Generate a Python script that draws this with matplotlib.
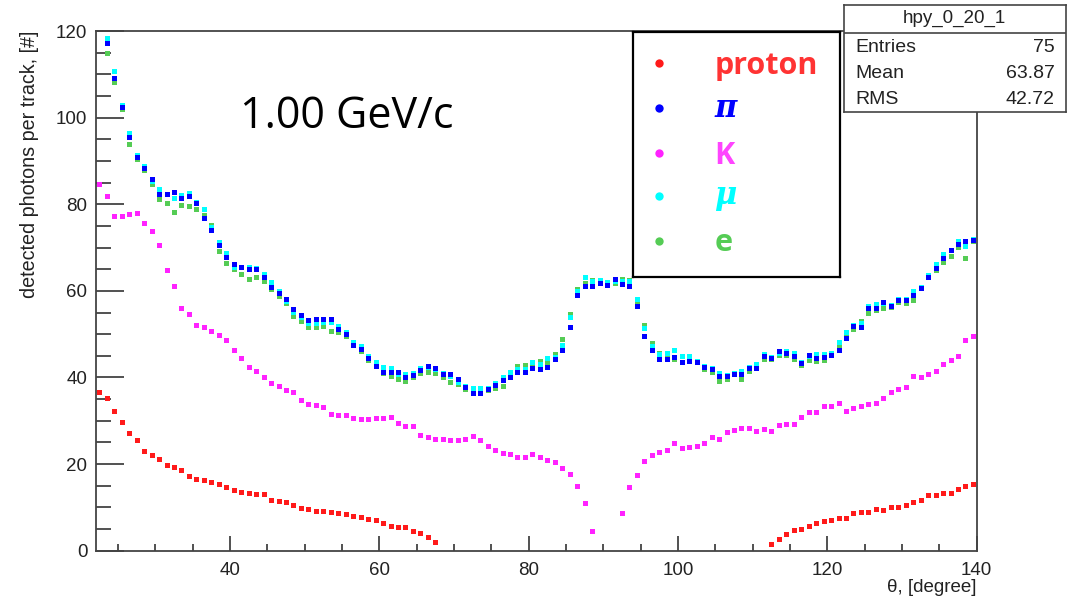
import numpy as np
import matplotlib
matplotlib.use("Agg")
import matplotlib.pyplot as plt
from matplotlib.ticker import MultipleLocator

nan = np.nan
# bin centres (theta, degree)
theta = np.arange(22.5, 140.0, 1.0)

proton = [36.7, 35.3, 32.3, 29.7, 27.1, 25.5, 23.0, 22.0, 21.1, 19.8, 19.4, 18.6, 17.2, 16.6, 16.3, 15.9,
          15.3, 14.6, 14.0, 13.6, 13.4, 13.0, 13.0, 11.7, 11.5, 11.2, 10.5, 9.8, 9.6, 9.2, 9.2,
          9.0, 8.7, 8.4, 8.0, 7.7, 7.4, 7.0, 6.3, 5.7, 5.4, 5.4, 4.5, 4.1, 3.2, 1.9] \
         + [nan] * 44 + \
         [1.6, 2.8, 3.8, 4.7, 5.0, 5.7, 6.4, 6.8, 7.0, 7.6, 7.6, 8.6, 8.9, 8.9, 9.6, 9.5, 10.2, 10.2,
          10.5, 11.2, 11.8, 12.8, 12.8, 13.4, 13.4, 14.3, 15.0, 15.3]

kaon = [84.7, 81.8, 77.3, 77.3, 77.7, 78.0, 75.7, 73.8, 70.6, 64.9, 61.1, 56.0, 54.7, 52.1, 51.7, 50.8,
        49.9, 48.6, 46.4, 44.4, 42.5, 41.5, 40.0, 38.7, 38.0, 37.0, 36.7, 34.8, 33.9, 33.6, 33.2, 31.6,
        31.3, 31.3, 30.6, 30.3, 30.3, 30.6, 30.6, 30.9,
        29.6, 28.7, 28.7, 26.8, 26.2, 25.9, 25.9, 25.6, 25.6, 25.9, 26.5, 25.6, 24.2, 23.3, 22.6, 22.3,
        21.7, 21.7, 22.4, 21.7, 21.0, 20.4, 19.2, 17.6, 14.9, 10.9, 4.5,
        nan, nan, nan,
        8.6, 14.6, 17.5, 20.7, 22.0, 22.7, 23.3, 24.9, 23.6, 23.9, 24.2, 24.9, 26.2, 25.8, 27.4, 27.8,
        28.4, 28.4, 27.6, 28.0, 27.7, 29.1, 29.3, 29.3, 30.9, 32.0, 32.0, 33.5, 33.5, 34.2, 32.3, 33.0,
        33.5, 33.8, 34.2, 35.2, 36.7, 37.4, 37.7, 40.3, 40.0, 40.9, 41.5, 43.1, 44.1, 45.0, 48.7, 49.6]

pion = [nan, 117.3, 109.1, 102.5, 95.6, 91.0, 88.4, 85.8, 82.4, 82.4, 82.8, 81.5, 81.9, 80.2, 76.8, 74.1,
        70.5, 67.8, 66.2, 65.6, 65.0, 65.1, 63.3, 61.0, 59.4, 58.1, 55.8, 54.5, 53.3, 53.4, 53.4, 53.4,
        51.3, 50.0, 47.4, 46.6, 44.6, 42.7, 41.2, 41.3, 41.3, 40.0, 40.5, 41.7, 42.7, 42.1, 40.8, 40.7,
        39.6, 37.7, 36.5, 36.5, 37.3, 38.2, 39.3, 40.1, 41.2, 41.3, 42.1, 41.9, 42.4, 44.2, 46.4, 51.7,
        59.1, 61.2, 61.2, 61.8, 61.4, 62.7, 61.5, 61.1, 56.6, 49.6, 46.4, 44.3, 44.3, 44.8, 43.6, 43.9,
        43.6, 42.5, 42.0, 40.3, 40.4, 40.7, 40.8, 42.1, 42.1, 45.0, 44.6, 46.2, 45.6, 45.0, 43.4, 45.2,
        44.6, 44.8, 45.3, 46.4, 49.1, 51.8, 51.7, 56.0, 56.1, 57.5, 56.5, 58.0, 57.8, 59.1, 60.6, 63.3,
        65.2, 67.5, 69.4, 70.8, 71.6, 71.7]

muon = [nan, 118.3, 110.7, 102.9, 96.5, 91.4, 88.8, 85.4, 83.5, 82.4, 81.5, 82.1, 82.5, 80.6, 78.9, 74.8,
        71.2, 68.7, 65.6, 65.5, 65.5, 65.2, 63.9, 62.0, 60.0, 57.7, 55.2, 54.0, 52.5, 52.5, 52.7, 52.7,
        51.8, 50.5, 48.1, 47.3, 45.0, 43.6, 42.4, 42.1, 40.8, 40.7, 41.1, 42.1, 42.4, 41.9, 41.0, 40.3,
        39.0, 38.0, 37.6, 37.5, 37.6, 38.7, 40.2, 41.2, 41.9, 42.0, 43.6, 43.2, 44.4, 44.7, 47.5, 53.9,
        59.9, 63.3, 62.2, 62.5, 62.0, 62.2, 62.2, 62.2, 58.1, 51.4, 47.3, 45.4, 45.7, 46.4, 45.0, 45.0,
        43.8, 42.7, 42.3, 41.0, 40.6, 41.0, 41.6, 42.5, 43.1, 45.4, 44.8, 45.7, 46.0, 45.6, 43.6, 45.0,
        45.4, 45.4, 45.6, 48.3, 50.6, 52.1, 52.6, 56.6, 56.9, 57.3, 56.7, 58.1, 58.1, 60.0, 60.8, 63.6,
        66.2, 68.5, 69.4, 71.6, 70.4, 71.9]

electron = [nan, 115.0, 108.2, 101.9, 93.9, 90.4, 87.9, 84.7, 81.1, 80.2, 78.3, 79.9, 79.5, 78.9, 77.4, 75.1,
            69.3, 66.5, 65.0, 63.9, 62.7, 63.3, 62.3, 60.4, 58.8, 57.3, 54.3, 53.0, 51.7, 51.7, 51.8, 50.8,
            50.4, 49.5, 47.9, 46.0, 44.0, 43.1, 41.0, 40.4, 39.6, 39.2, 40.0, 41.1, 41.3, 41.0, 40.2, 38.9,
            38.5, 37.3, 37.1, 37.3, 37.1, 37.6, 38.0, 40.6, 42.7, 42.9, 43.4, 43.8, 43.3, 45.4, 48.9, 54.7,
            60.4, 61.9, 62.4, 61.8, 61.9, 61.8, 62.7, 62.5, 57.5, 52.1, 47.9, 45.6, 44.8, 44.3, 45.0, 45.0,
            43.6, 41.9, 41.3, 39.2, 39.6, 40.8, 39.6, 41.6, 42.6, 44.2, 44.2, 45.2, 45.2, 44.2, 42.9, 44.0,
            43.9, 44.0, 45.4, 47.5, 49.8, 51.1, 53.1, 55.0, 55.6, 56.0, 56.2, 57.5, 57.1, 57.9, 61.0, 63.1,
            64.8, 66.7, 68.1, 70.1, 67.5, 71.4]

labels = ["proton", "\u03c0", "K", "\u03bc", "e"]
colors = ["#FF1A1A", "#0000FF", "#FF22FF", "#00FFFF", "#55CC55"]
label_colors = ["#FF3333", "#0000FF", "#FF44FF", "#00FFFF", "#55CC55"]

stats_title = "hpy_0_20_1"
stats_names = ["Entries", "Mean", "RMS"]
stats_values = ["75", "63.87", "42.72"]

W, H = 1081, 600
fig = plt.figure(figsize=(W / 100, H / 100), dpi=100)
fig.patch.set_facecolor("white")

def fbox(x0, y0, x1, y1):
    return [x0 / W, 1 - y1 / H, (x1 - x0) / W, (y1 - y0) / H]

ax = fig.add_axes(fbox(95.6, 31, 976.7, 550.7))
ms = 3.6
series = [(proton, colors[0]), (kaon, colors[2]), (electron, colors[4]), (muon, colors[3]), (pion, colors[1])]
for vals, c in series:
    ax.plot(theta, vals, linestyle="none", marker="s", markersize=ms, color=c, markeredgewidth=0)

ax.set_xlim(22, 140)
ax.set_ylim(0, 120)
ax.xaxis.set_major_locator(MultipleLocator(20))
ax.xaxis.set_minor_locator(MultipleLocator(5))
ax.yaxis.set_major_locator(MultipleLocator(20))
ax.yaxis.set_minor_locator(MultipleLocator(5))
ax.tick_params(axis="both", which="both", direction="in", top=False, right=False, colors="#333333")
ax.tick_params(axis="x", which="major", length=11, width=1.2, pad=8)
ax.tick_params(axis="x", which="minor", length=5, width=1.2)
ax.tick_params(axis="y", which="major", length=20, width=1.2, pad=6)
ax.tick_params(axis="y", which="minor", length=11, width=1.2)
for lab in ax.get_xticklabels() + ax.get_yticklabels():
    lab.set_fontfamily("Liberation Sans")
    lab.set_fontsize(13.5)
    lab.set_color("#222222")
for s in ax.spines.values():
    s.set_linewidth(1.3)
    s.set_color("#444444")

ax.set_ylabel("detected photons per track, [#]", fontfamily="Liberation Sans", fontsize=14.2,
              color="#222222", loc="top")
ax.yaxis.set_label_coords(-0.064, 1.0)
ax.set_xlabel("\u03b8, [degree]", fontfamily="Liberation Sans", fontsize=13.5, color="#222222", loc="right")
ax.xaxis.set_label_coords(1.0, -0.054)

ax.text(0.164, 0.835, "1.00 GeV/c", transform=ax.transAxes, fontsize=31, fontfamily="Open Sans",
        color="black", ha="left", va="center")

# legend box (overlay)
lg = fig.add_axes(fbox(633.3, 32.3, 839.7, 277.3))
lg.set_xlim(0, 1)
lg.set_ylim(0, 1)
lg.set_xticks([])
lg.set_yticks([])
for s in lg.spines.values():
    s.set_linewidth(1.6)
    s.set_color("black")
rows_y = [63.3, 108.3, 153.3, 195.7, 241.0]
for lab, c, lc, ry in zip(labels, colors, label_colors, rows_y):
    yy = 1 - (ry - 32.3) / (277.3 - 32.3)
    lg.plot([0.126], [yy], marker="o", markersize=6, color=c, markeredgewidth=0, linestyle="none")
    if lab in ("\u03c0", "\u03bc"):
        lg.text(0.393, yy, lab, fontsize=22, fontfamily="DejaVu Serif", fontweight="bold",
                fontstyle="italic", color=lc, ha="left", va="center")
    else:
        lg.text(0.393, yy - 0.01, lab, fontsize=22, fontfamily="Open Sans", fontweight="bold",
                color=lc, ha="left", va="center")

# stats box
st = fig.add_axes(fbox(844, 5, 1065.7, 111.7))
st.set_xlim(0, 1)
st.set_ylim(0, 1)
st.set_xticks([])
st.set_yticks([])
st.set_facecolor("white")
for s in st.spines.values():
    s.set_linewidth(1.2)
    s.set_color("#444444")
hb = 111.7 - 5
sep = 1 - (33.3 - 5) / hb
st.axhline(sep, color="#444444", linewidth=1.2)
st.text(0.5, 1 - (18 - 5) / hb, stats_title, ha="center", va="center", fontsize=13.5,
        fontfamily="Liberation Sans", color="#222222")
for i, (n, v) in enumerate(zip(stats_names, stats_values)):
    yy = 1 - (47 + 26 * i - 5) / hb
    st.text(0.05, yy, n, ha="left", va="center", fontsize=14, fontfamily="Liberation Sans", color="#222222")
    st.text(0.95, yy, v, ha="right", va="center", fontsize=14, fontfamily="Liberation Sans", color="#222222")

fig.savefig("out.png", dpi=100)
